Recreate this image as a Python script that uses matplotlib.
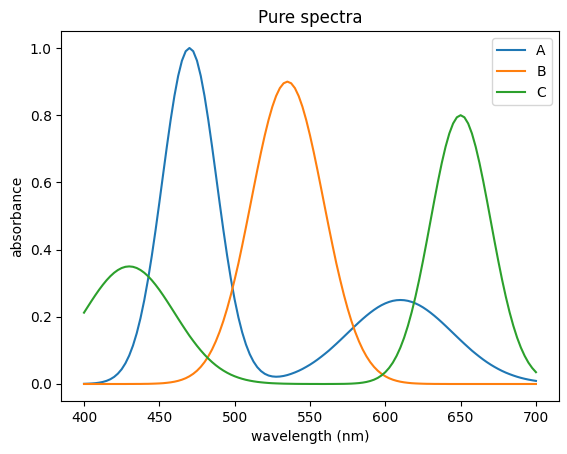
import matplotlib
matplotlib.use("Agg")
import matplotlib.pyplot as plt

# wavelength grid, 400-700 nm every 2.5 nm
wavelength = [400 + 2.5 * i for i in range(121)]

# absorbance
spectrum_a = [
    0.0005, 0.0009, 0.0015, 0.0024, 0.0039, 0.0061, 0.0094, 0.0142, 0.0211, 0.0308,
    0.0439, 0.0616, 0.0847, 0.1142, 0.1510, 0.1959, 0.2494, 0.3113, 0.3812, 0.4578,
    0.5394, 0.6234, 0.7066, 0.7857, 0.8570, 0.9169, 0.9622, 0.9904, 1.0001, 0.9905,
    0.9623, 0.9171, 0.8573, 0.7860, 0.7070, 0.6240, 0.5401, 0.4587, 0.3823, 0.3127,
    0.2512, 0.1981, 0.1538, 0.1176, 0.0889, 0.0668, 0.0502, 0.0384, 0.0303, 0.0252,
    0.0225, 0.0216, 0.0222, 0.0239, 0.0266, 0.0302, 0.0344, 0.0392, 0.0447, 0.0509,
    0.0575, 0.0648, 0.0727, 0.0812, 0.0901, 0.0993, 0.1094, 0.1196, 0.1301, 0.1408,
    0.1516, 0.1624, 0.1731, 0.1836, 0.1937, 0.2033, 0.2123, 0.2206, 0.2281, 0.2346,
    0.2400, 0.2443, 0.2475, 0.2494, 0.2500, 0.2494, 0.2475, 0.2443, 0.2400, 0.2346,
    0.2281, 0.2206, 0.2123, 0.2033, 0.1937, 0.1836, 0.1731, 0.1624, 0.1516, 0.1408,
    0.1301, 0.1196, 0.1094, 0.0993, 0.0901, 0.0812, 0.0727, 0.0648, 0.0575, 0.0508,
    0.0446, 0.0389, 0.0338, 0.0293, 0.0252, 0.0215, 0.0183, 0.0155, 0.0131, 0.0110,
    0.0092,
]
spectrum_b = [
    0.0, 0.0, 0.0, 0.0, 0.0, 0.0, 0.0, 0.0, 0.0, 0.0,
    0.0, 0.0, 0.0001, 0.0001, 0.0002, 0.0002, 0.0004, 0.0005, 0.0008, 0.0012,
    0.0017, 0.0024, 0.0035, 0.0049, 0.0068, 0.0094, 0.0128, 0.0172, 0.0230, 0.0303,
    0.0395, 0.0510, 0.0651, 0.0823, 0.1027, 0.1270, 0.1552, 0.1876, 0.2244, 0.2655,
    0.3108, 0.3590, 0.4120, 0.4668, 0.5231, 0.5800, 0.6360, 0.6899, 0.7403, 0.7858,
    0.8252, 0.8571, 0.8807, 0.8951, 0.9000, 0.8951, 0.8807, 0.8571, 0.8252, 0.7858,
    0.7403, 0.6899, 0.6360, 0.5800, 0.5231, 0.4668, 0.4120, 0.3590, 0.3108, 0.2655,
    0.2244, 0.1876, 0.1552, 0.1270, 0.1027, 0.0823, 0.0651, 0.0510, 0.0395, 0.0303,
    0.0230, 0.0172, 0.0128, 0.0094, 0.0068, 0.0049, 0.0035, 0.0024, 0.0017, 0.0012,
    0.0008, 0.0005, 0.0004, 0.0002, 0.0002, 0.0001, 0.0001, 0.0, 0.0, 0.0,
    0.0, 0.0, 0.0, 0.0, 0.0, 0.0, 0.0, 0.0, 0.0, 0.0,
    0.0, 0.0, 0.0, 0.0, 0.0, 0.0, 0.0, 0.0, 0.0, 0.0,
    0.0,
]
spectrum_c = [
    0.2123, 0.2299, 0.2473, 0.2642, 0.2803, 0.2952, 0.3089, 0.3209, 0.3311, 0.3392,
    0.3452, 0.3488, 0.3500, 0.3488, 0.3452, 0.3392, 0.3311, 0.3209, 0.3089, 0.2952,
    0.2803, 0.2642, 0.2473, 0.2299, 0.2123, 0.1946, 0.1772, 0.1602, 0.1436, 0.1283,
    0.1136, 0.0999, 0.0873, 0.0757, 0.0652, 0.0558, 0.0474, 0.0400, 0.0335, 0.0278,
    0.0230, 0.0189, 0.0154, 0.0124, 0.0100, 0.0080, 0.0063, 0.0050, 0.0039, 0.0030,
    0.0023, 0.0018, 0.0014, 0.0010, 0.0008, 0.0006, 0.0004, 0.0003, 0.0002, 0.0002,
    0.0001, 0.0001, 0.0001, 0.0, 0.0, 0.0001, 0.0001, 0.0002, 0.0003, 0.0004,
    0.0007, 0.0011, 0.0018, 0.0027, 0.0041, 0.0061, 0.0089, 0.0128, 0.0182, 0.0255,
    0.0351, 0.0477, 0.0636, 0.0837, 0.1083, 0.1379, 0.1730, 0.2136, 0.2597, 0.3108,
    0.3663, 0.4249, 0.4852, 0.5456, 0.6039, 0.6581, 0.7060, 0.7457, 0.7754, 0.7938,
    0.8000, 0.7938, 0.7754, 0.7457, 0.7060, 0.6581, 0.6039, 0.5456, 0.4852, 0.4249,
    0.3663, 0.3108, 0.2597, 0.2136, 0.1730, 0.1379, 0.1083, 0.0837, 0.0636, 0.0477,
    0.0351,
]
labels = ["A", "B", "C"]

fig = plt.figure(figsize=(5.67, 4.54), dpi=100)
ax = fig.add_axes([0.1083, 0.1172, 0.8768, 0.8141])

for label, values in zip(labels, [spectrum_a, spectrum_b, spectrum_c]):
    ax.plot(wavelength, values, label=label)

ax.set_title("Pure spectra")
ax.set_xlabel("wavelength (nm)")
ax.set_ylabel("absorbance")
ax.legend(loc="upper right")

fig.savefig("out.png", dpi=100)
